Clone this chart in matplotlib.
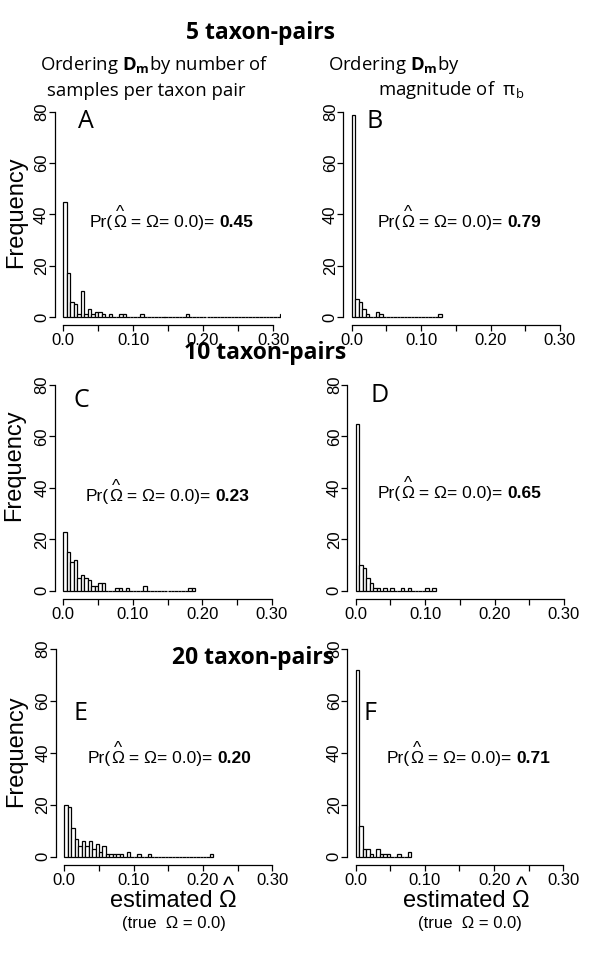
import matplotlib
matplotlib.use("Agg")
import matplotlib.pyplot as plt
import numpy as np

plt.rcParams["font.family"] = ["Liberation Sans", "DejaVu Sans"]
plt.rcParams["mathtext.fontset"] = "custom"
plt.rcParams["mathtext.rm"] = "Open Sans"
plt.rcParams["mathtext.bf"] = "Open Sans:bold"
plt.rcParams["mathtext.it"] = "Open Sans:italic"

# histogram counts per bin of width 0.005, starting at 0.0
BIN = 0.005
counts_a = [45, 17, 6, 5, 1, 10, 1, 3, 1, 2,
            2, 1, 0, 1, 0, 0, 1, 1, 0, 0,
            0, 0, 1, 0, 0, 0, 0, 0, 0, 0,
            0, 0, 0, 0, 0, 1, 0, 0, 0, 0,
            0, 0, 0, 0, 0, 0, 0, 0, 0, 0,
            0, 0, 0, 0, 0, 0, 0, 0, 0, 0,
            0, 0, 1]
counts_b = [79, 7, 6, 3, 1, 0, 0, 2, 1, 0,
            0, 0, 0, 0, 0, 0, 0, 0, 0, 0,
            0, 0, 0, 0, 0, 1]
counts_c = [23, 15, 11, 12, 5, 6, 5, 4, 2, 2,
            3, 3, 0, 0, 0, 1, 1, 0, 1, 0,
            0, 0, 0, 2, 0, 0, 0, 0, 0, 0,
            0, 0, 0, 0, 0, 0, 1, 1]
counts_d = [65, 10, 9, 5, 3, 1, 1, 0, 1, 0,
            1, 0, 0, 1, 0, 1, 0, 0, 0, 0,
            1, 0, 1]
counts_e = [20, 19, 11, 7, 4, 6, 4, 6, 3, 5,
            2, 4, 1, 1, 1, 1, 1, 0, 2, 0,
            0, 1, 0, 0, 1, 0, 0, 0, 0, 0,
            0, 0, 0, 0, 0, 0, 0, 0, 0, 0,
            0, 0, 1]
counts_f = [72, 12, 3, 3, 1, 0, 3, 1, 1, 1,
            0, 0, 1, 0, 0, 2]

all_counts = [counts_a, counts_b, counts_c, counts_d, counts_e, counts_f]
panel_letters = ["A", "B", "C", "D", "E", "F"]
pr_values = ["0.45", "0.79", "0.23", "0.65", "0.20", "0.71"]
headers = ["5 taxon-pairs", "10 taxon-pairs", "20 taxon-pairs"]
x_ticks = [0.0, 0.05, 0.10, 0.15, 0.20, 0.25, 0.30]
x_tick_labels = ["0.0", "", "0.10", "", "0.20", "", "0.30"]
y_ticks = [0, 20, 40, 60, 80]

W, H = 600, 964
fig = plt.figure(figsize=(W / 100, H / 100), dpi=100)

# pixel positions of data x=0, x=0.3, y=0, y=80 for each panel
panel_px = [(63, 273, 317, 112), (351.7, 560, 317, 112),
            (63.3, 271.7, 590.7, 385), (355.7, 564, 590.7, 385),
            (64.3, 272.3, 856.7, 649), (355.7, 563.3, 856.7, 649)]
letter_px = [(86, 121), (375, 121), (81, 400), (380, 395), (80, 713), (370, 713)]
pr_px = [(90, 227), (378, 227), (86, 501), (378, 498), (88, 763), (387, 763)]
freq_px = [(16, 212), (14, 465), (16, 751)]
header_px = [(261, 33), (265, 353), (253, 658)]

MYRIAD = "Open Sans"


def fx(x):
    return x / W


def fy(y):
    return 1 - y / H


def rect_for(x0, x30, y0, y80):
    sx = (x30 - x0) / 0.3
    sy = (y0 - y80) / 80
    left = x0 - 0.012 * sx
    right = x0 + 0.312 * sx
    bottom = y0 + 3.2 * sy
    top = y80 - 3.2 * sy
    return [fx(left), fy(bottom), (right - left) / W, (bottom - top) / H]


def chain(ax, prev, s, **kw):
    return ax.annotate(s, xy=(1, 0), xycoords=prev, va="bottom", ha="left",
                       annotation_clip=False, **kw)


def hat(ax, omega, size, dy):
    ax.annotate("^", xy=(0.5, 0), xycoords=omega, xytext=(0, dy),
                textcoords="offset points", ha="center", va="bottom",
                fontsize=size, annotation_clip=False)


for i, counts in enumerate(all_counts):
    ax = fig.add_axes(rect_for(*panel_px[i]))
    edges = np.arange(len(counts)) * BIN
    ax.bar(edges, counts, width=BIN, align="edge", facecolor="white",
           edgecolor="black", linewidth=0.9)
    ax.set_xlim(-0.012, 0.312)
    ax.set_ylim(-3.2, 83.2)
    for side in ["top", "right"]:
        ax.spines[side].set_visible(False)
    ax.spines["left"].set_bounds(0, 80)
    ax.spines["bottom"].set_bounds(0, 0.3)
    ax.spines["left"].set_linewidth(0.9)
    ax.spines["bottom"].set_linewidth(0.9)
    ax.set_xticks(x_ticks)
    ax.set_xticklabels(x_tick_labels, fontsize=12)
    ax.set_yticks(y_ticks)
    ax.set_yticklabels([str(v) for v in y_ticks], fontsize=12,
                       rotation=90, va="center")
    ax.tick_params(direction="out", length=4, width=0.9)
    ax.tick_params(axis="x", pad=1.5)
    ax.tick_params(axis="y", pad=0)

    lx, ly = letter_px[i]
    fig.text(fx(lx), fy(ly), panel_letters[i], fontsize=18, family=MYRIAD,
             ha="center", va="center")

    px, py = pr_px[i]
    t = fig.text(fx(px), fy(py), "Pr(", fontsize=12.5, va="baseline")
    om = chain(ax, t, "\u03a9", fontsize=12.5)
    hat(ax, om, 12.5, 7)
    t = chain(ax, om, " = \u03a9= 0.0)= ", fontsize=12.5)
    chain(ax, t, pr_values[i], fontsize=12.5, fontweight="bold")

    if i % 2 == 0:
        qx, qy = freq_px[i // 2]
        fig.text(fx(qx), fy(qy), "Frequency", fontsize=17, rotation=90,
                 ha="center", va="center")

    if i >= 4:
        x_est = 110 if i == 4 else 403
        x_true = 122 if i == 4 else 418
        t = fig.text(fx(x_est), fy(907), "estimated ", fontsize=17,
                     va="baseline")
        om = chain(ax, t, "\u03a9", fontsize=17)
        hat(ax, om, 17, 10)
        fig.text(fx(x_true), fy(928), "(true  \u03a9 = 0.0)", fontsize=12,
                 va="baseline")

for (hx, hy), label in zip(header_px, headers):
    fig.text(fx(hx), fy(hy), label, fontsize=16.5, fontweight="bold",
             family=MYRIAD, ha="center", va="center")

fig.text(fx(40), fy(70), r"Ordering $\mathbf{D_m}$by number of",
         fontsize=13.3, family=MYRIAD, va="baseline")
fig.text(fx(47), fy(96), "samples per taxon pair",
         fontsize=13.3, family=MYRIAD, va="baseline")
fig.text(fx(328), fy(70), r"Ordering $\mathbf{D_m}$by",
         fontsize=13.3, family=MYRIAD, va="baseline")
fig.text(fx(378), fy(95), r"magnitude of  $\mathrm{\pi_b}$",
         fontsize=13.3, family=MYRIAD, va="baseline")

fig.savefig("out.png", dpi=100)
